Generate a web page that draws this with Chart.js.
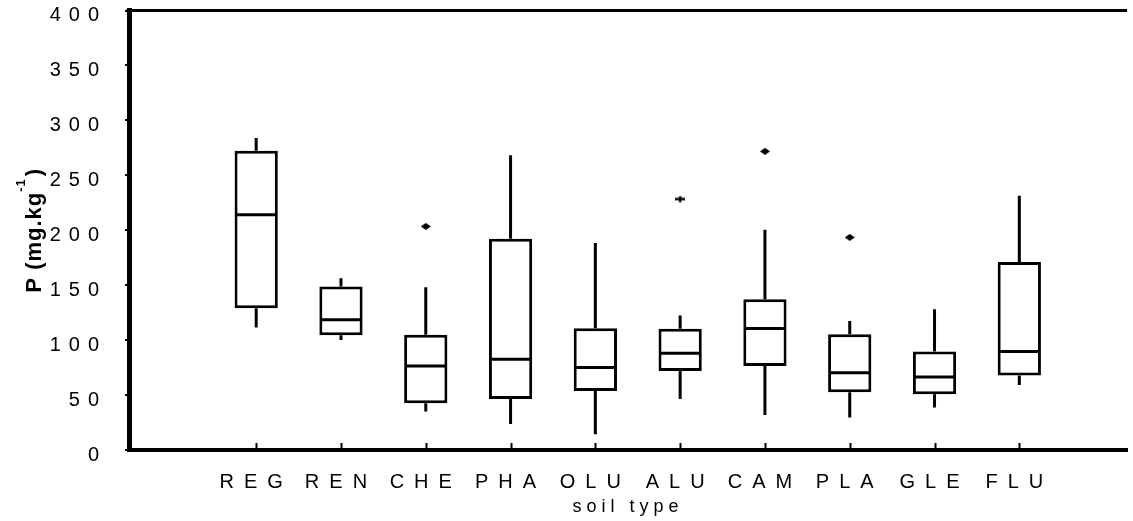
<!DOCTYPE html>
<html>
<head>
<meta charset="utf-8">
<title>P by soil type</title>
<script src="https://cdn.jsdelivr.net/npm/chart.js@4.4.1/dist/chart.umd.min.js"></script>
<style>
  html, body { margin: 0; padding: 0; background: #fff; }
  #wrap { width: 1133px; height: 521px; position: relative; }
</style>
</head>
<body>
<div id="wrap"><canvas id="boxChart"></canvas></div>
<script>
// soil types along the x axis
const categories = ['REG', 'REN', 'CHE', 'PHA', 'OLU', 'ALU', 'CAM', 'PLA', 'GLE', 'FLU'];

// box plot summary per soil type (mg/kg)
const whiskerLow  = [111.5, 100.2, 35.0, 23.7, 14.3, 46.5, 31.9, 29.5, 38.6, 59.2];
const quartile1   = [129.0, 104.5, 42.5, 46.5, 53.8, 72.0, 76.5, 52.6, 50.7, 67.7];
const medians     = [214.0, 118.5, 76.5, 82.6, 75.0, 88.1, 110.6, 70.4, 66.5, 89.6];
const quartile3   = [272.4, 148.8, 104.8, 192.3, 110.9, 110.3, 137.3, 105.4, 89.6, 171.0];
const whiskerHigh = [284.0, 156.4, 148.2, 268.2, 188.3, 122.4, 200.5, 117.5, 128.2, 231.4];

// outliers
const outlierCats   = ['CHE', 'ALU', 'CAM', 'PLA'];
const outlierValues = [203.5, 228.4, 271.8, 193.5];
const outlierMarks  = ['diamond', 'plus', 'diamond', 'diamond'];

const yMin = 0, yMax = 400, yStep = 50;

const FONT = "'Liberation Sans', Arial, sans-serif";

// small marker images for the outliers
function makeMarker(kind) {
    var c = document.createElement('canvas');
    c.width = 10; c.height = 7;
    var g = c.getContext('2d');
    g.fillStyle = '#000';
    g.strokeStyle = '#000';
    if (kind === 'diamond') {
        g.beginPath();
        g.moveTo(5, 0); g.lineTo(10, 3.5); g.lineTo(5, 7); g.lineTo(0, 3.5);
        g.closePath();
        g.fill();
    } else {
        g.lineWidth = 2.5;
        g.beginPath();
        g.moveTo(0, 3.5); g.lineTo(10, 3.5);
        g.moveTo(5, 0.5); g.lineTo(5, 6.5);
        g.stroke();
    }
    return c;
}
const markers = { diamond: makeMarker('diamond'), plus: makeMarker('plus') };

// wrap an axis drawing method so its letters get spread out
function spaceOut(scale, fn, spacing) {
    var flag = '_spaced_' + fn;
    if (scale[flag]) return;
    scale[flag] = true;
    var orig = scale[fn];
    scale[fn] = function () {
        var ctx = this.ctx;
        ctx.save();
        ctx.letterSpacing = spacing;
        orig.apply(this, arguments);
        ctx.restore();
    };
}

const boxPlotExtras = {
    id: 'boxPlotExtras',
    beforeDraw(chart) {
        spaceOut(chart.scales.x, 'drawLabels', '10px');
        spaceOut(chart.scales.x, 'drawTitle', '5px');
        spaceOut(chart.scales.y, 'drawLabels', '8px');
    },
    afterDatasetsDraw(chart) {
        const ctx = chart.ctx;
        const xs = chart.scales.x, ys = chart.scales.y;
        const bars = chart.getDatasetMeta(0).data;
        ctx.save();
        ctx.strokeStyle = '#000';
        ctx.lineWidth = 3;
        ctx.lineCap = 'butt';
        categories.forEach(function (c, i) {
            const x = xs.getPixelForValue(i + 1);
            const half = bars[i].width / 2;
            ctx.beginPath();
            // whiskers
            ctx.moveTo(x, ys.getPixelForValue(quartile3[i]));
            ctx.lineTo(x, ys.getPixelForValue(whiskerHigh[i]));
            ctx.moveTo(x, ys.getPixelForValue(quartile1[i]));
            ctx.lineTo(x, ys.getPixelForValue(whiskerLow[i]));
            // median
            const ym = ys.getPixelForValue(medians[i]);
            ctx.moveTo(x - half + 1.5, ym);
            ctx.lineTo(x + half - 1.5, ym);
            ctx.stroke();
        });
        ctx.restore();
    },
    afterDraw(chart) {
        const ctx = chart.ctx;
        const area = chart.chartArea;
        const xs = chart.scales.x;
        ctx.save();
        ctx.strokeStyle = '#000';
        // top frame line
        ctx.lineWidth = 3;
        ctx.beginPath();
        ctx.moveTo(area.left - 2.5, area.top);
        ctx.lineTo(area.right, area.top);
        ctx.stroke();
        // inward tick marks on the x axis
        ctx.lineWidth = 2;
        ctx.beginPath();
        categories.forEach(function (c, i) {
            const x = Math.round(xs.getPixelForValue(i + 1)) + 0.5;
            ctx.moveTo(x, area.bottom - 1);
            ctx.lineTo(x, area.bottom - 7);
        });
        ctx.stroke();

        // y axis title with a superscript
        const cy = (area.top + area.bottom) / 2;
        const main = 'P (mg.kg', sup = '-1', close = ')';
        ctx.fillStyle = '#000';
        ctx.letterSpacing = '1px';
        ctx.textBaseline = 'alphabetic';
        ctx.textAlign = 'left';
        ctx.font = 'bold 22px ' + FONT;
        const w1 = ctx.measureText(main).width;
        const w3 = ctx.measureText(close).width;
        ctx.font = 'bold 13px ' + FONT;
        const w2 = ctx.measureText(sup).width;
        const total = w1 + w2 + w3 + 2;
        ctx.translate(41, cy);
        ctx.rotate(-Math.PI / 2);
        let pos = -total / 2;
        ctx.font = 'bold 22px ' + FONT;
        ctx.fillText(main, pos, 0);
        pos += w1;
        ctx.font = 'bold 13px ' + FONT;
        ctx.fillText(sup, pos, -16);
        pos += w2 + 2;
        ctx.font = 'bold 22px ' + FONT;
        ctx.fillText(close, pos, 0);
        ctx.restore();
    }
};

var ctx = document.getElementById('boxChart').getContext('2d');
var boxChart = new Chart(ctx, {
    type: 'bar',
    data: {
        datasets: [{
            type: 'bar',
            data: categories.map(function (c, i) { return { x: i + 1, y: [quartile1[i], quartile3[i]] }; }),
            backgroundColor: '#fff',
            borderColor: '#000',
            borderWidth: 3,
            borderSkipped: false,
            barPercentage: 0.51,
            categoryPercentage: 1,
            order: 2
        }, {
            type: 'scatter',
            data: outlierCats.map(function (c, i) { return { x: categories.indexOf(c) + 1, y: outlierValues[i] }; }),
            pointStyle: outlierMarks.map(function (m) { return markers[m]; }),
            pointRadius: 5,
            order: 1
        }]
    },
    options: {
        responsive: true,
        maintainAspectRatio: false,
        animation: false,
        events: [],
        layout: { padding: { top: 10.5, right: 0, left: 0, bottom: 0 } },
        plugins: {
            legend: { display: false },
            tooltip: { enabled: false }
        },
        scales: {
            x: {
                type: 'linear',
                offset: false,
                min: -0.5,
                max: 11.27,
                grid: { display: false, drawTicks: false },
                border: { display: true, color: '#000', width: 4 },
                ticks: {
                    stepSize: 1,
                    includeBounds: false,
                    autoSkip: false,
                    maxRotation: 0,
                    padding: 20,
                    color: '#000',
                    font: { family: FONT, size: 20 },
                    callback: function (v) { return categories[v - 1] || ''; }
                },
                title: {
                    display: true,
                    text: 'soil type',
                    color: '#000',
                    font: { family: FONT, size: 18 },
                    padding: { top: 0, bottom: 3 }
                },
                afterFit: function (scale) {
                    scale.height = 71;
                    scale.paddingLeft = 0;
                    scale.paddingRight = 0;
                }
            },
            y: {
                min: yMin,
                max: yMax,
                grid: { drawOnChartArea: false, drawTicks: true, tickLength: 4, color: '#000', lineWidth: 2 },
                border: { display: true, color: '#000', width: 5 },
                ticks: {
                    stepSize: yStep,
                    padding: 18,
                    labelOffset: 5,
                    color: '#000',
                    font: { family: FONT, size: 20 }
                },
                afterFit: function (scale) {
                    scale.width = 129;
                    scale.paddingTop = 0;
                    scale.paddingBottom = 0;
                }
            }
        }
    },
    plugins: [boxPlotExtras]
});
</script>
</body>
</html>
